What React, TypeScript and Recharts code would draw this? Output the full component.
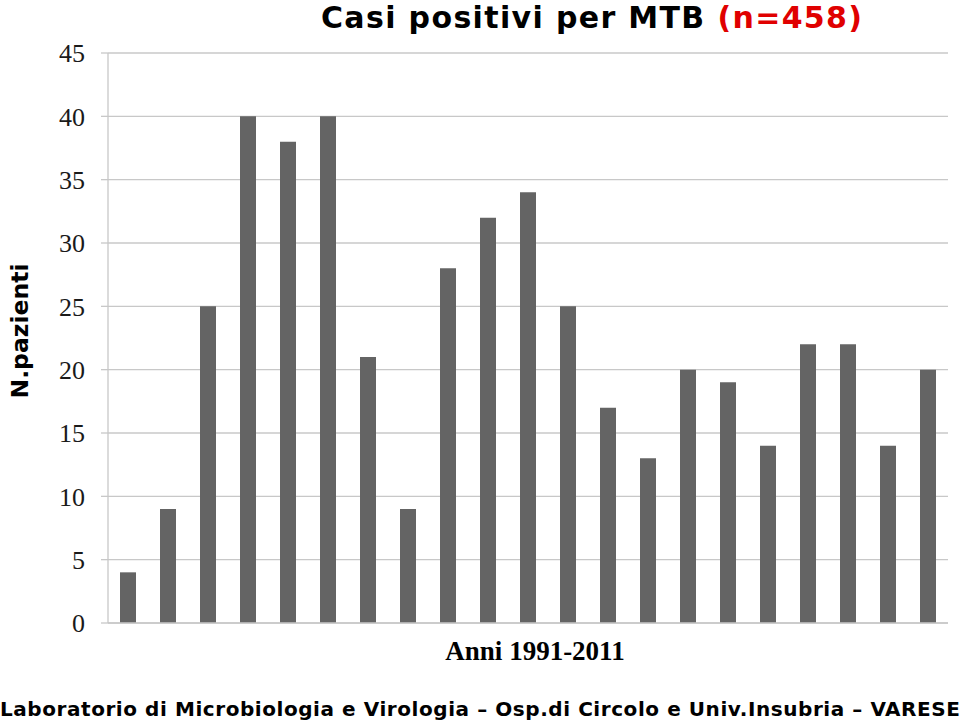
import React from 'react';
import { BarChart, Bar, XAxis, YAxis, CartesianGrid, Label } from 'recharts';

const years = ['1991','1992','1993','1994','1995','1996','1997','1998','1999','2000','2001','2002','2003','2004','2005','2006','2007','2008','2009','2010','2011'];
const cases = [4, 9, 25, 40, 38, 40, 21, 9, 28, 32, 34, 25, 17, 13, 20, 19, 14, 22, 22, 14, 20];
const yTicks = [0, 5, 10, 15, 20, 25, 30, 35, 40, 45];

const data = years.map((y, i) => ({ year: y, value: cases[i] }));

const sans = 'Verdana, "DejaVu Sans", sans-serif';
const serif = '"Liberation Serif", "Times New Roman", serif';

export default function App() {
  return (
    <div style={{ position: 'absolute', left: 0, top: 0, width: 960, height: 723, background: '#fff', overflow: 'hidden' }}>
      <div style={{ position: 'absolute', left: 321, top: 0, fontFamily: sans, fontWeight: 'bold', fontSize: 30, letterSpacing: 1.35, lineHeight: '35px', whiteSpace: 'nowrap', color: '#000' }}>
        Casi positivi per MTB <span style={{ color: '#e00000' }}>(n=458)</span>
      </div>
      <BarChart width={960} height={723} data={data} margin={{ top: 53, right: 12, bottom: 60, left: 1 }}>
        <CartesianGrid vertical={false} stroke="#c8c8c8" strokeWidth={1.3} />
        <XAxis dataKey="year" tick={false} tickLine={false} axisLine={{ stroke: '#c8c8c8', strokeWidth: 1.3 }} height={40}>
          <Label value="Anni 1991-2011" position="insideBottom" offset={3} dx={7} style={{ fontFamily: serif, fontWeight: 'bold', fontSize: 27, fill: '#000' }} />
        </XAxis>
        <YAxis
          width={107}
          domain={[0, 45]}
          ticks={yTicks}
          interval={0}
          tickSize={7}
          tickMargin={16}
          tickLine={{ stroke: '#c8c8c8', strokeWidth: 1.3 }}
          axisLine={{ stroke: '#c8c8c8', strokeWidth: 1.3 }}
          tick={{ fontFamily: serif, fontSize: 26, fill: '#1a1a1a' }}
        >
          <Label value="N.pazienti" angle={-90} position="insideLeft" offset={19} dy={-7} style={{ fontFamily: sans, fontWeight: 'bold', fontSize: 23.5, fill: '#000', textAnchor: 'middle' }} />
        </YAxis>
        <Bar dataKey="value" fill="#646464" barSize={16} isAnimationActive={false} />
      </BarChart>
      <div style={{ position: 'absolute', left: 0, top: 696, width: 960, fontFamily: sans, fontWeight: 'bold', fontSize: 20, letterSpacing: 0.56, lineHeight: '26px', whiteSpace: 'nowrap', color: '#000' }}>
        Laboratorio di Microbiologia e Virologia – Osp.di Circolo e Univ.Insubria – VARESE
      </div>
    </div>
  );
}
